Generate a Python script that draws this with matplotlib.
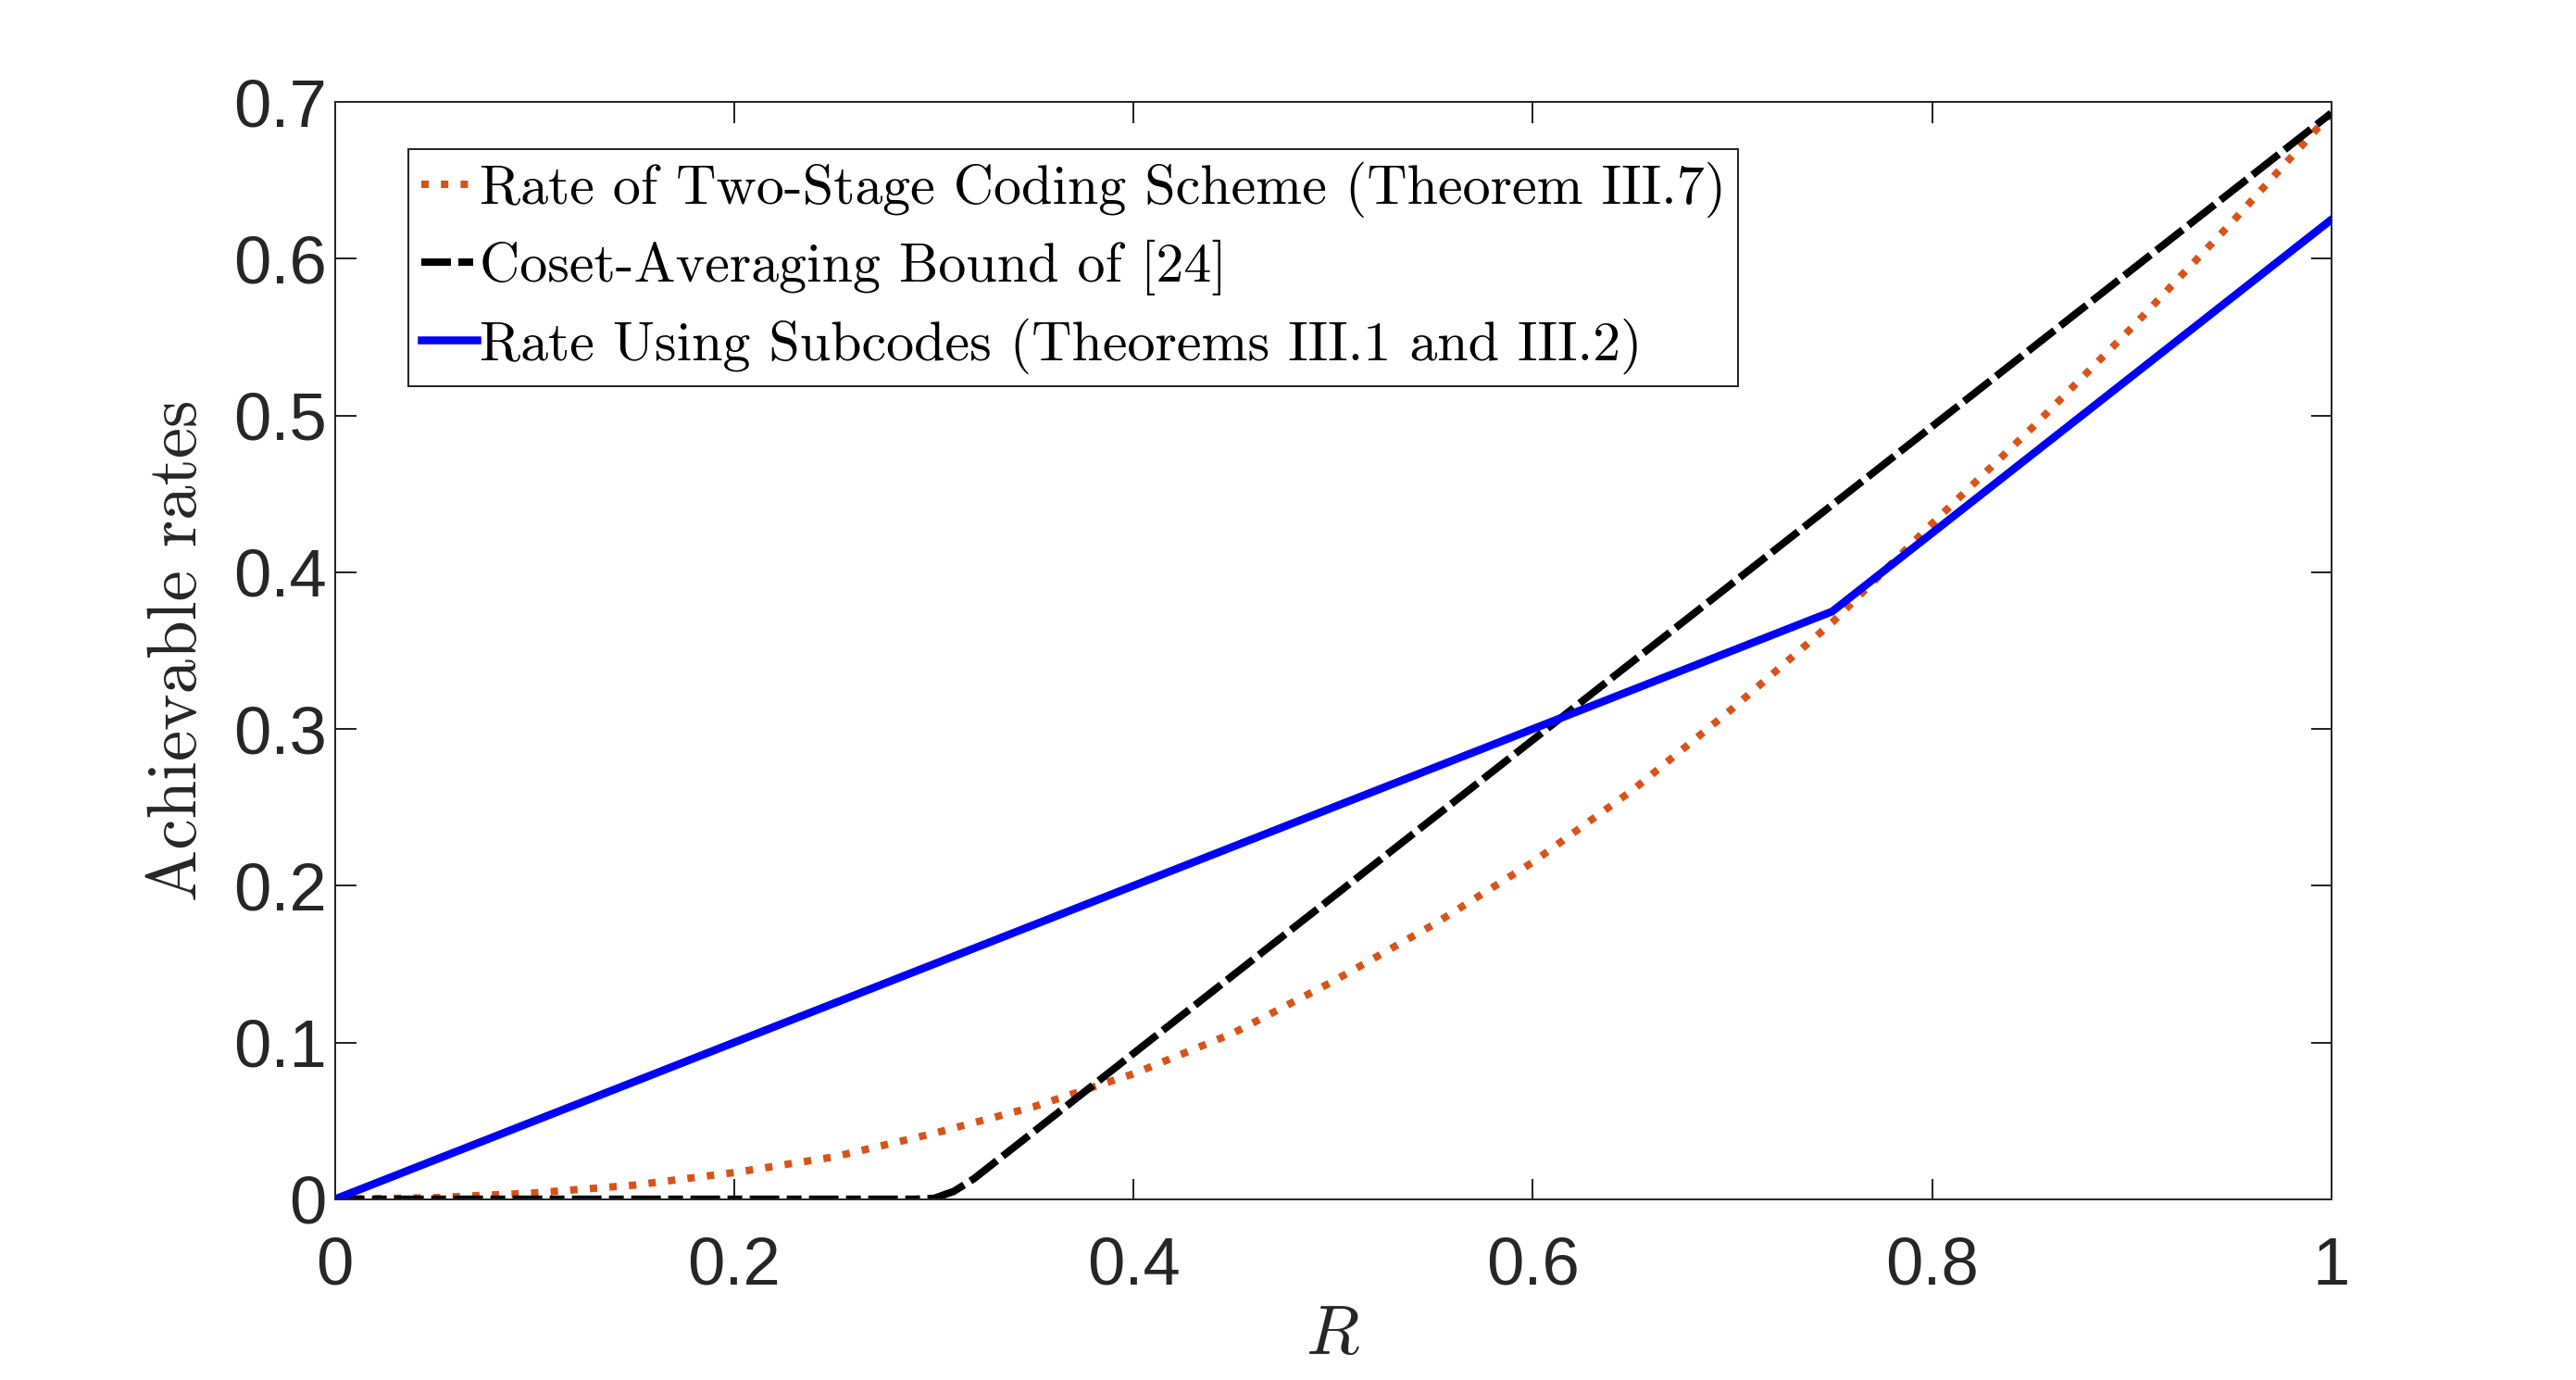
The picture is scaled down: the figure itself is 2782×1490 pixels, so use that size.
import matplotlib
matplotlib.use("Agg")
import matplotlib.pyplot as plt
import numpy as np

plt.rcParams['mathtext.fontset'] = 'cm'
plt.rcParams['font.family'] = ['Liberation Sans', 'DejaVu Sans']

# values
r_two_stage = [0.0, 0.05, 0.1, 0.15, 0.2, 0.25, 0.3, 0.35, 0.4, 0.45, 0.5, 0.55,
               0.6, 0.65, 0.7, 0.75, 0.8, 0.85, 0.9, 0.95, 1.0]
rate_two_stage = [0.0, 0.001, 0.004, 0.009, 0.017, 0.027, 0.042, 0.059, 0.080,
                  0.106, 0.139, 0.175, 0.215, 0.261, 0.313, 0.368, 0.431, 0.492,
                  0.556, 0.623, 0.693]

r_coset = [0.0, 0.29, 0.30, 0.31, 0.32, 0.4, 0.6, 0.8, 1.0]
rate_coset = [0.0, 0.0, 0.0005, 0.005, 0.013, 0.093, 0.293, 0.493, 0.693]

r_subcodes = [0.0, 0.75, 1.0]
rate_subcodes = [0.0, 0.375, 0.625]

labels = ['Rate of Two-Stage Coding Scheme (Theorem III.7)',
          'Coset-Averaging Bound of [24]',
          'Rate Using Subcodes (Theorems III.1 and III.2)']

fig = plt.figure(figsize=(2782 / 180, 1490 / 180), dpi=180)
ax = fig.add_axes([0.130, 0.131, 0.775, 0.795])

ax.plot(r_two_stage, rate_two_stage, ':', color='#D95319', lw=3.2, label=labels[0])
# flat part of the bound shows a long/short dash pattern, the rising part plain dashes
ax.plot(r_coset[:3], rate_coset[:3], color='black', lw=3.2, dashes=(4.0, 1.0, 2.0, 1.0),
        label=labels[1])
ax.plot(r_coset[2:], rate_coset[2:], color='black', lw=3.2, dashes=(4.5, 1.0))
ax.plot(r_subcodes, rate_subcodes, '-', color='#0000FF', lw=3.4, label=labels[2])

ax.set_xlim(0, 1)
ax.set_ylim(0, 0.7)
ax.set_xticks([0, 0.2, 0.4, 0.6, 0.8, 1])
ax.set_xticklabels(['0', '0.2', '0.4', '0.6', '0.8', '1'])
ax.set_yticks(np.arange(0, 0.71, 0.1))
ax.set_yticklabels(['0', '0.1', '0.2', '0.3', '0.4', '0.5', '0.6', '0.7'])
ax.tick_params(direction='in', top=True, right=True, length=9, width=0.8,
               labelsize=29, color='#262626', labelcolor='#262626')
ax.tick_params(axis='x', pad=16)
for s in ax.spines.values():
    s.set_linewidth(0.8)
    s.set_color('#262626')

ax.set_xlabel('$R$', fontsize=30, labelpad=2, color='#262626')
ax.set_ylabel('Achievable rates', family='cmr10', fontsize=30, labelpad=10, color='#262626')

leg = ax.legend(loc='upper left', bbox_to_anchor=(0.037, 0.957), prop={'family': 'cmr10', 'size': 24},
                handlelength=1.0, handletextpad=0.05, borderpad=0.22, labelspacing=0.4,
                borderaxespad=0, fancybox=False, framealpha=1)
leg.get_frame().set_edgecolor('#262626')
leg.get_frame().set_linewidth(0.8)

fig.savefig('out.png', dpi=180, facecolor='white')
